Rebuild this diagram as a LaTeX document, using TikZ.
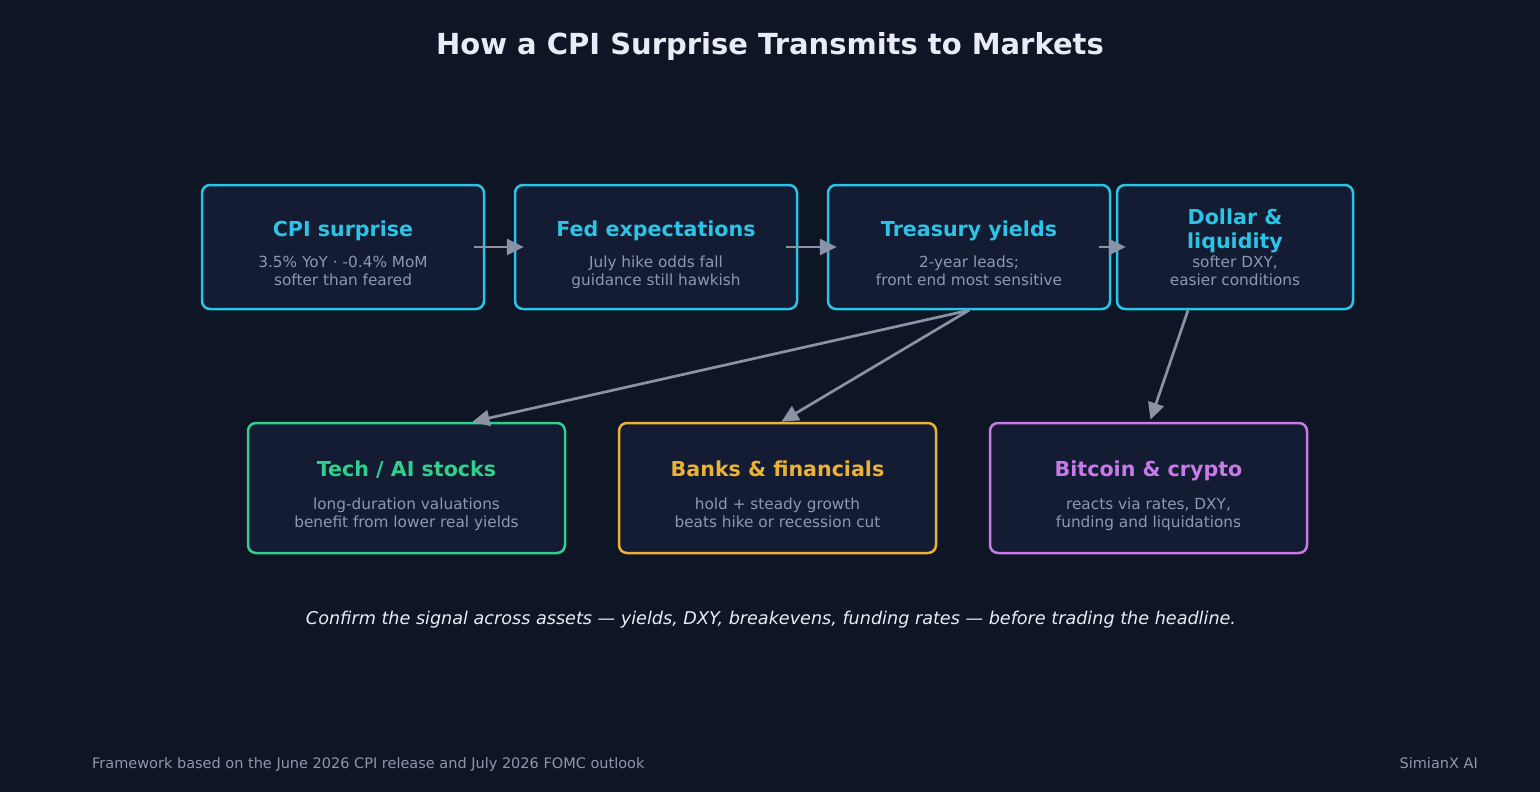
\documentclass[tikz,border=0pt]{standalone}
\usepackage{fontspec}
\setmainfont{DejaVu Sans}
\usetikzlibrary{arrows.meta,calc}
\definecolor{bg}{HTML}{0E1525}
\definecolor{boxfill}{HTML}{141C33}
\definecolor{cyanc}{HTML}{2BC4E6}
\definecolor{greenc}{HTML}{2FCF8C}
\definecolor{orangec}{HTML}{EBB236}
\definecolor{purplec}{HTML}{C77AE8}
\definecolor{subc}{HTML}{8E98AE}
\definecolor{arrowc}{HTML}{8A93A6}
\definecolor{titlec}{HTML}{E8ECF4}
\tikzset{
  card/.style={draw=#1, fill=boxfill, line width=2.5pt, rounded corners=8pt, inner sep=0pt},
  ttl/.style={anchor=base, align=center, text=#1, font=\fontsize{20.6}{24}\selectfont\bfseries},
  sub/.style={anchor=base, align=center, text=subc, font=\fontsize{15.3}{17.5}\selectfont},
  flow/.style={draw=arrowc, line width=2.7pt, -{Triangle[length=17pt,width=16pt]}},
  foottext/.style={text=subc, inner sep=0pt, font=\fontsize{14.5}{17}\selectfont},
}
\begin{document}
\begin{tikzpicture}[x=1pt,y=-1pt]
\fill[bg] (0,0) rectangle (1540,792);
\useasboundingbox (0,0) rectangle (1540,792);

\node[anchor=base, text=titlec, font=\fontsize{29}{34}\selectfont\bfseries] (title) at (770,55) {How a CPI Surprise Transmits to Markets};

% top row
\node[card=cyanc, minimum width=282pt, minimum height=124pt] (b1) at (343,247) {};
\node[card=cyanc, minimum width=282pt, minimum height=124pt] (b2) at (656,247) {};
\node[card=cyanc, minimum width=282pt, minimum height=124pt] (b3) at (969,247) {};
\node[card=cyanc, minimum width=236pt, minimum height=124pt] (b4) at (1235,247) {};
% bottom row
\node[card=greenc, minimum width=317pt, minimum height=130pt] (b5) at (406.5,488) {};
\node[card=orangec, minimum width=317pt, minimum height=130pt] (b6) at (777.5,488) {};
\node[card=purplec, minimum width=317pt, minimum height=130pt] (b7) at (1148.5,488) {};

% texts (multi-line nodes: base = last line)
\node[ttl=cyanc] (t1) at (343,236) {CPI surprise};
\node[sub] (s1) at (343,285) {3.5\% YoY · -0.4\% MoM\\softer than feared};
\node[ttl=cyanc] (t2) at (656,236) {Fed expectations};
\node[sub] (s2) at (656,285) {July hike odds fall\\guidance still hawkish};
\node[ttl=cyanc] (t3) at (969,236) {Treasury yields};
\node[sub] (s3) at (969,285) {2-year leads;\\front end most sensitive};
\node[ttl=cyanc] (t4) at (1235,248) {Dollar \&\\liquidity};
\node[sub] (s4) at (1235,285) {softer DXY,\\easier conditions};
\node[ttl=greenc] (t5) at (406.5,476) {Tech / AI stocks};
\node[sub] (s5) at (406.5,527) {long-duration valuations\\benefit from lower real yields};
\node[ttl=orangec] (t6) at (777.5,476) {Banks \& financials};
\node[sub] (s6) at (777.5,527) {hold + steady growth\\beats hike or recession cut};
\node[ttl=purplec] (t7) at (1148.5,476) {Bitcoin \& crypto};
\node[sub] (s7) at (1148.5,527) {reacts via rates, DXY,\\funding and liquidations};

% connectors
\draw[flow] ($(b1.east)+(-11,0)$) -- ($(b2.west)+(10,0)$);
\draw[flow] ($(b2.east)+(-12,0)$) -- ($(b3.west)+(10,0)$);
\draw[flow] ($(b3.east)+(-12,0)$) -- ($(b4.west)+(10,0)$);
\draw[flow] (b3.south) -- ($(b5.north)+(66,0)$);
\draw[flow] (b3.south) -- ($(b6.north)+(4,0)$);
\draw[flow] ($(b4.south)+(-47,0)$) -- ($(b7.north)+(2,-2)$);

\node[anchor=base, text=titlec, font=\fontsize{17.6}{20}\selectfont\itshape] (note) at (771,624) {Confirm the signal across assets — yields, DXY, breakevens, funding rates — before trading the headline.};
\node[foottext, anchor=base west] (foot) at (92,768) {Framework based on the June 2026 CPI release and July 2026 FOMC outlook};
\node[foottext, anchor=base east] (brand) at (1478,768) {SimianX AI};
\end{tikzpicture}
\end{document}
